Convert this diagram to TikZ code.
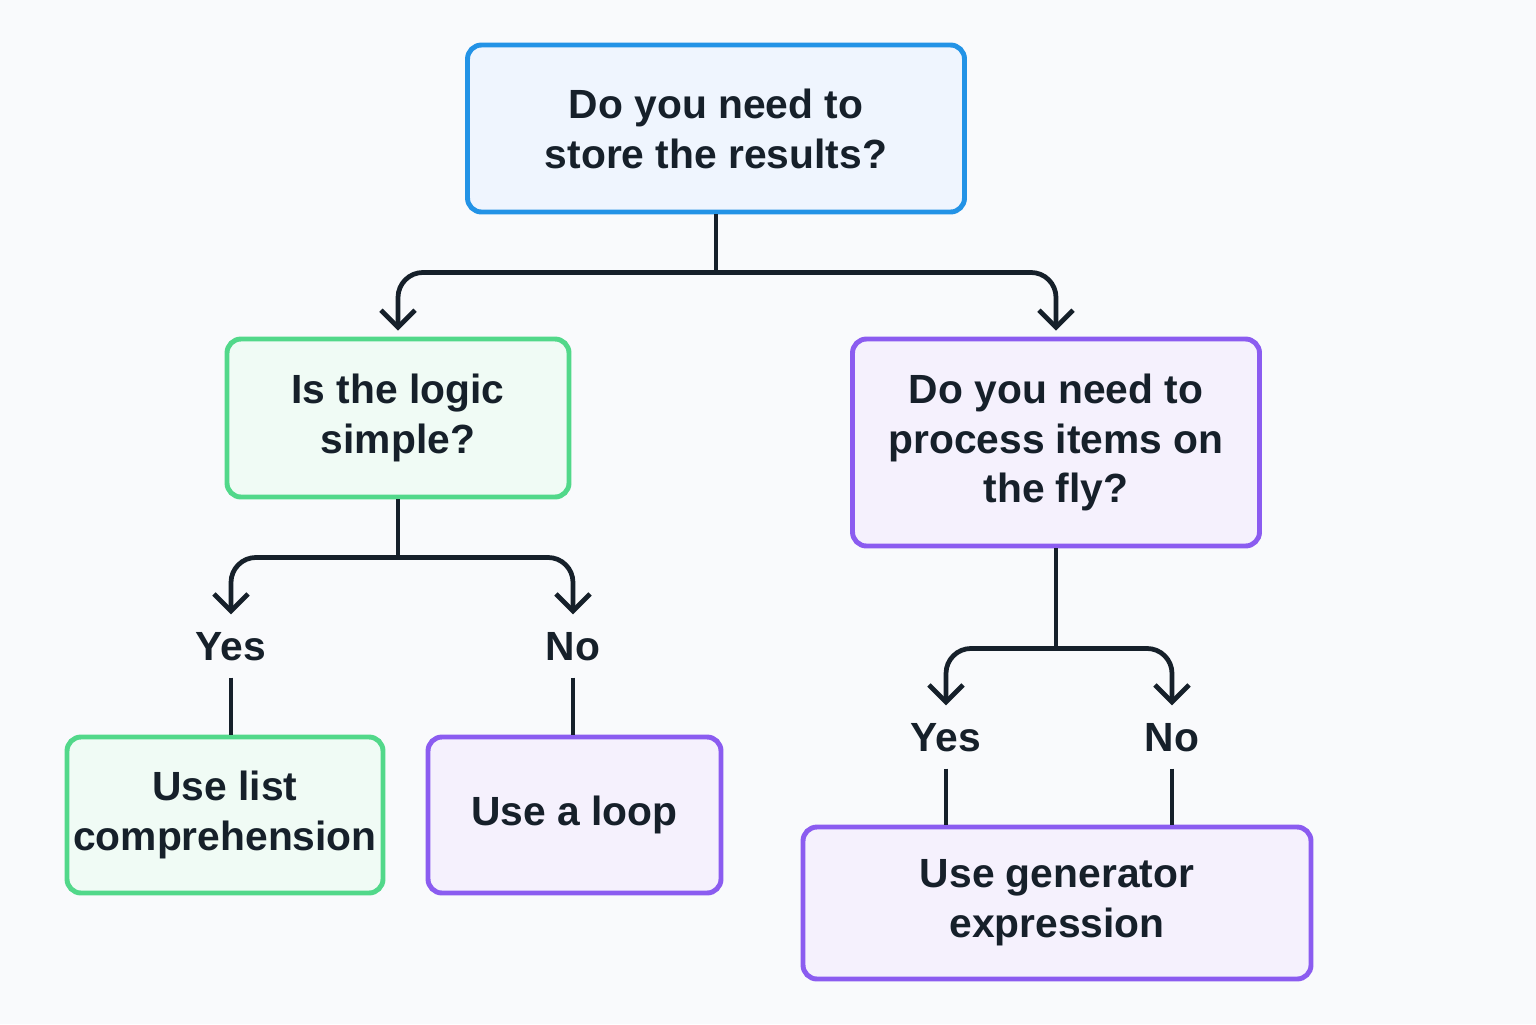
\documentclass[tikz,border=0pt]{standalone}
\usepackage{fontspec}
\setmainfont{Liberation Sans}
\usetikzlibrary{arrows.meta}

\definecolor{ink}{HTML}{16202A}
\definecolor{bgcol}{HTML}{F9FAFC}
\definecolor{blueline}{HTML}{2393E6}
\definecolor{bluefill}{HTML}{EFF5FE}
\definecolor{greenline}{HTML}{52D88A}
\definecolor{greenfill}{HTML}{F0FBF5}
\definecolor{purpleline}{HTML}{8B5CF0}
\definecolor{purplefill}{HTML}{F5F1FD}

\tikzset{
  box/.style={draw, line width=1.4pt, rounded corners=0.14cm, align=center,
    text=ink, font=\fontsize{11.6}{14.2}\selectfont\bfseries, inner sep=0pt},
  bluebox/.style={box, draw=blueline, fill=bluefill},
  greenbox/.style={box, draw=greenline, fill=greenfill},
  purplebox/.style={box, draw=purpleline, fill=purplefill},
  answer/.style={text=ink, font=\fontsize{11.6}{14.2}\selectfont\bfseries,
    minimum height=0.6cm, inner sep=0pt},
  arr/.style={draw=ink, line width=1.35pt, rounded corners=0.25cm,
    -{Straight Barb[length=0.17cm, width=0.34cm, line width=1.35pt]}},
  link/.style={draw=ink, line width=1.35pt}
}

\begin{document}
\begin{tikzpicture}[x=1cm, y=-1cm]

  % Page
  \fill[bgcol] (0,0) rectangle (15.36,10.24);
  \useasboundingbox (0,0) rectangle (15.36,10.24);

  % Questions
  \node[bluebox, minimum width=4.97cm, minimum height=1.67cm] (store) at (7.16,1.285)
    {Do you need to\\store the results?};
  \node[greenbox, minimum width=3.42cm, minimum height=1.58cm] (simple) at (3.98,4.18)
    {Is the logic\\simple?};
  \node[purplebox, minimum width=4.07cm, minimum height=2.07cm] (fly) at (10.56,4.425)
    {Do you need to\\process items on\\the fly?};

  % Answers
  \node[answer] (yesA) at (2.31,6.47) {Yes};
  \node[answer] (noA) at (5.73,6.47) {No};
  \node[answer] (yesB) at (9.46,7.38) {Yes};
  \node[answer] (noB) at (11.72,7.38) {No};

  % Outcomes
  \node[greenbox, minimum width=3.16cm, minimum height=1.56cm] (listcomp) at (2.25,8.15)
    {Use list\\comprehension};
  \node[purplebox, minimum width=2.93cm, minimum height=1.56cm] (loop) at (5.745,8.15)
    {Use a loop};
  \node[purplebox, minimum width=5.08cm, minimum height=1.52cm] (gen) at (10.57,9.03)
    {Use generator\\expression};

  % Split points under each question
  \path (store.south) -- ++(0,0.58) coordinate (splitA);
  \path (simple.south) -- ++(0,0.58) coordinate (splitB);
  \path (fly.south) -- ++(0,1.0) coordinate (splitC);

  % Branches from the first question
  \draw[link] (store.south) -- (splitA);
  \draw[arr, shorten >=0.06cm] (splitA) -| (simple.north);
  \draw[arr, shorten >=0.06cm] (splitA) -| (fly.north);

  % Branches from the second row
  \draw[link] (simple.south) -- (splitB);
  \draw[arr, shorten >=0.02cm] (splitB) -| (yesA.north);
  \draw[arr, shorten >=0.02cm] (splitB) -| (noA.north);
  \draw[link] (fly.south) -- (splitC);
  \draw[arr, shorten >=0.02cm] (splitC) -| (yesB.north);
  \draw[arr, shorten >=0.02cm] (splitC) -| (noB.north);

  % Answers down to outcomes
  \draw[link] (yesA.south) -- (yesA.south |- listcomp.north);
  \draw[link] (noA.south) -- (noA.south |- loop.north);
  \draw[link] (yesB.south) -- (yesB.south |- gen.north);
  \draw[link] (noB.south) -- (noB.south |- gen.north);

\end{tikzpicture}
\end{document}
